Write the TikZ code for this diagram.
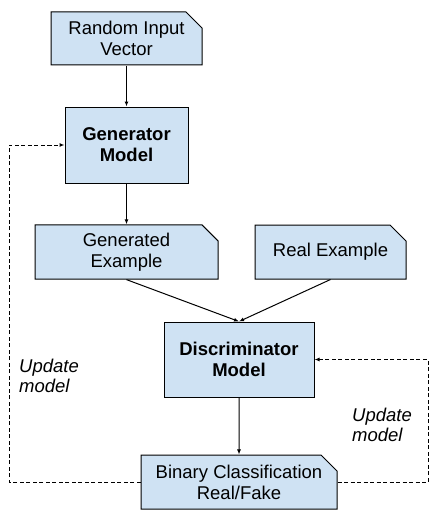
\documentclass[tikz,border=0pt]{standalone}
\usepackage{fontspec}
\setmainfont{Liberation Sans}
\usetikzlibrary{arrows.meta,shapes.misc}
\definecolor{boxblue}{HTML}{CFE2F3}
\tikzstyle{block}=[rectangle,draw=black,fill=boxblue,line width=1pt,inner sep=0pt,align=center,font=\fontsize{18.5}{21}\selectfont]
\tikzstyle{snipblock}=[block,chamfered rectangle,chamfered rectangle corners=north east,chamfered rectangle xsep=8pt,chamfered rectangle ysep=8pt]
\tikzstyle{note}=[anchor=west,inner sep=0pt,align=left,font=\fontsize{18.5}{20}\selectfont\itshape]
\tikzstyle{flow}=[-{Latex[length=5pt,width=4pt]},line width=1pt]

\begin{document}
\begin{tikzpicture}[x=1pt,y=-1pt]
\useasboundingbox (0,0) rectangle (445,527);
\node[snipblock,minimum width=151pt,minimum height=53pt] at (126.5, 38.5) (z) {Random Input\\Vector};
\node[block,minimum width=123pt,minimum height=76pt] at (126.5, 145) (g) {\bfseries Generator\\\bfseries Model};
\node[snipblock,minimum width=183pt,minimum height=54pt] at (126.5, 252) (f) {Generated\\Example};
\node[snipblock,minimum width=151pt,minimum height=54pt] at (330.5, 252) (x) {Real Example};
\node[block,minimum width=150pt,minimum height=75pt] at (239, 359.5) (d) {\bfseries Discriminator\\\bfseries Model};
\node[snipblock,minimum width=196pt,minimum height=54pt] at (239, 482) (c) {Binary Classification\\Real/Fake};
\coordinate (ul) at (9, 145);
\coordinate (ur) at (428, 359.5);
\draw[flow] (z) -- (g);
\draw[flow] (g) -- (f);
\draw[flow] (f.south) -- (d.north);
\draw[flow] (x.south) -- (d.north);
\draw[flow] (d) -- (c);
\draw[flow, dash pattern=on 4pt off 2.5pt] (c.west) -| (ul) -- (g.west);
\draw[flow, dash pattern=on 4pt off 2.5pt] (c.east) -| (ur) -- (d.east);
\node[note] at (19, 376) (ln) {Update\\model};
\node[note] at (352, 425) (rn) {Update\\model};
\end{tikzpicture}
\end{document}
